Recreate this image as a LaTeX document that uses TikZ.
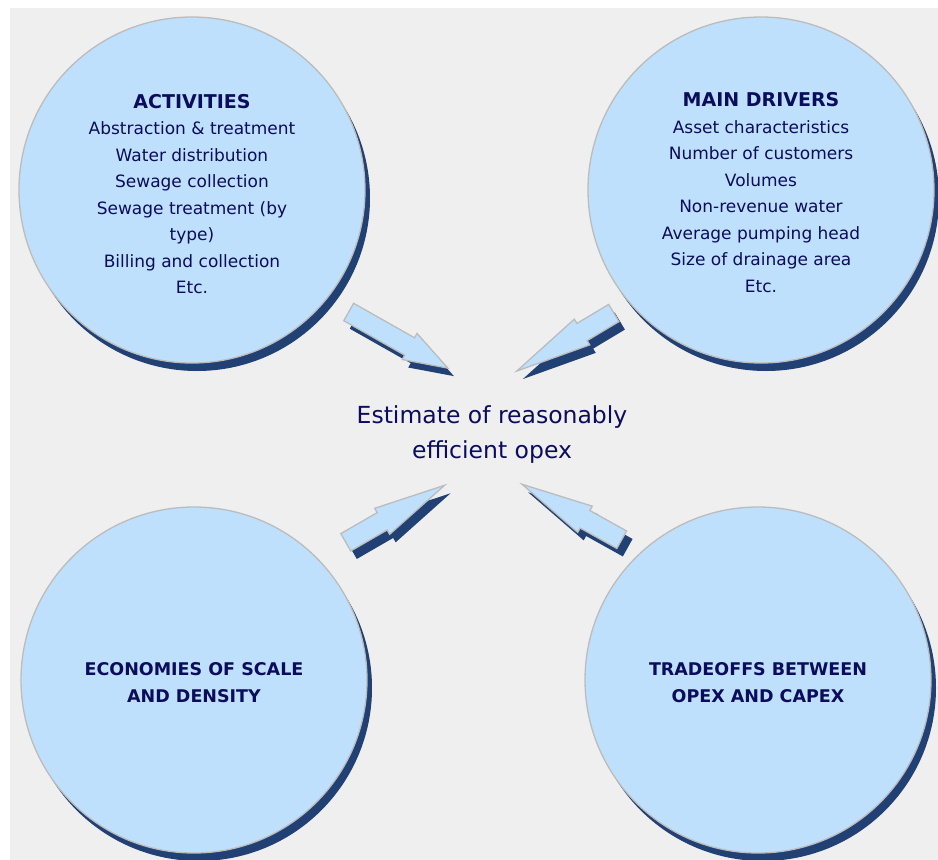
\documentclass[tikz,border=0pt]{standalone}
\usepackage{fontspec}
\setmainfont{DejaVu Sans}
\usetikzlibrary{shadows}
\definecolor{bgc}{RGB}{239,239,239}
\definecolor{bubblefill}{RGB}{190,224,253}
\definecolor{navyshadow}{RGB}{33,64,115}
\definecolor{rim}{RGB}{188,188,188}
\definecolor{ink}{RGB}{12,12,92}
% block arrow: #1 name, (#2,#3) tail centre, #4 angle, #5 length, #6 head length
\newcommand\blockarr[6]{%
  \coordinate (#1) at (#2,#3);
  \begin{scope}[shift={(#2+6,#3+8)},rotate=#4]
    \fill[fill=navyshadow] (0,-10) -- (#5-#6,-10) -- (#5-#6,-15) -- (#5,0) -- (#5-#6,15) -- (#5-#6,10) -- (0,10) -- cycle;
  \end{scope}
  \begin{scope}[shift={(#1)},rotate=#4]
    \filldraw[arrowbody] (0,-10) -- (#5-#6,-10) -- (#5-#6,-15) -- (#5,0) -- (#5-#6,15) -- (#5-#6,10) -- (0,10) -- cycle;
  \end{scope}}
\begin{document}
\begin{tikzpicture}[x=1pt,y=-1pt,
  bubble/.style={circle, fill=bubblefill, draw=rim, line width=1.3pt,
    minimum size=346pt, inner sep=0pt, align=center, text=ink,
    font=\fontsize{17}{26.5}\selectfont,
    general shadow={fill=navyshadow, shadow xshift=5pt, shadow yshift=-8pt}},
  headfont/.style={font=\fontsize{17.5}{27}\selectfont\bfseries},
  arrowbody/.style={fill=bubblefill, draw=rim, line width=1.3pt, line join=miter},
  goal/.style={align=center, text=ink, font=\fontsize{23.5}{35}\selectfont}
]
\useasboundingbox (0,0) rectangle (938,860);
\fill[bgc] (10,8) rectangle (938,860);

% arrows
\blockarr{a1}{348.7}{312}{-29.5}{114}{44}
\blockarr{a2}{613.8}{313}{-149.1}{113}{76}
\blockarr{a3}{345.8}{542.3}{30.0}{114}{72}
\blockarr{a4}{621.7}{539.7}{150.9}{114}{72}

% circles
\node[bubble] (act) at (192,190) {};
\node[bubble] (drv) at (761,190) {};
\node[bubble] (eco) at (194,680) {};
\node[bubble] (trd) at (758,680) {};

\node[align=center, text=ink, font=\fontsize{17}{26.5}\selectfont] (actt) at ([yshift=-4pt]act.center)
  {{\fontsize{19}{26.5}\selectfont\bfseries ACTIVITIES}\\Abstraction \& treatment\\Water distribution\\Sewage collection\\Sewage treatment (by\\type)\\Billing and collection\\Etc.};
\node[align=center, text=ink, font=\fontsize{17}{26.5}\selectfont] (drvt) at ([yshift=-2.5pt]drv.center)
  {{\fontsize{19}{26.5}\selectfont\bfseries MAIN DRIVERS}\\Asset characteristics\\Number of customers\\Volumes\\Non-revenue water\\Average pumping head\\Size of drainage area\\Etc.};
\node[align=center, text=ink, headfont] (ecot) at ([yshift=-3pt]eco.center) {ECONOMIES OF SCALE\\AND DENSITY};
\node[align=center, text=ink, headfont] (trdt) at ([yshift=-3pt]trd.center) {TRADEOFFS BETWEEN\\OPEX AND CAPEX};

% centre
\node[goal] (est) at (492,435) {Estimate of reasonably\\efficient opex};
\end{tikzpicture}
\end{document}
